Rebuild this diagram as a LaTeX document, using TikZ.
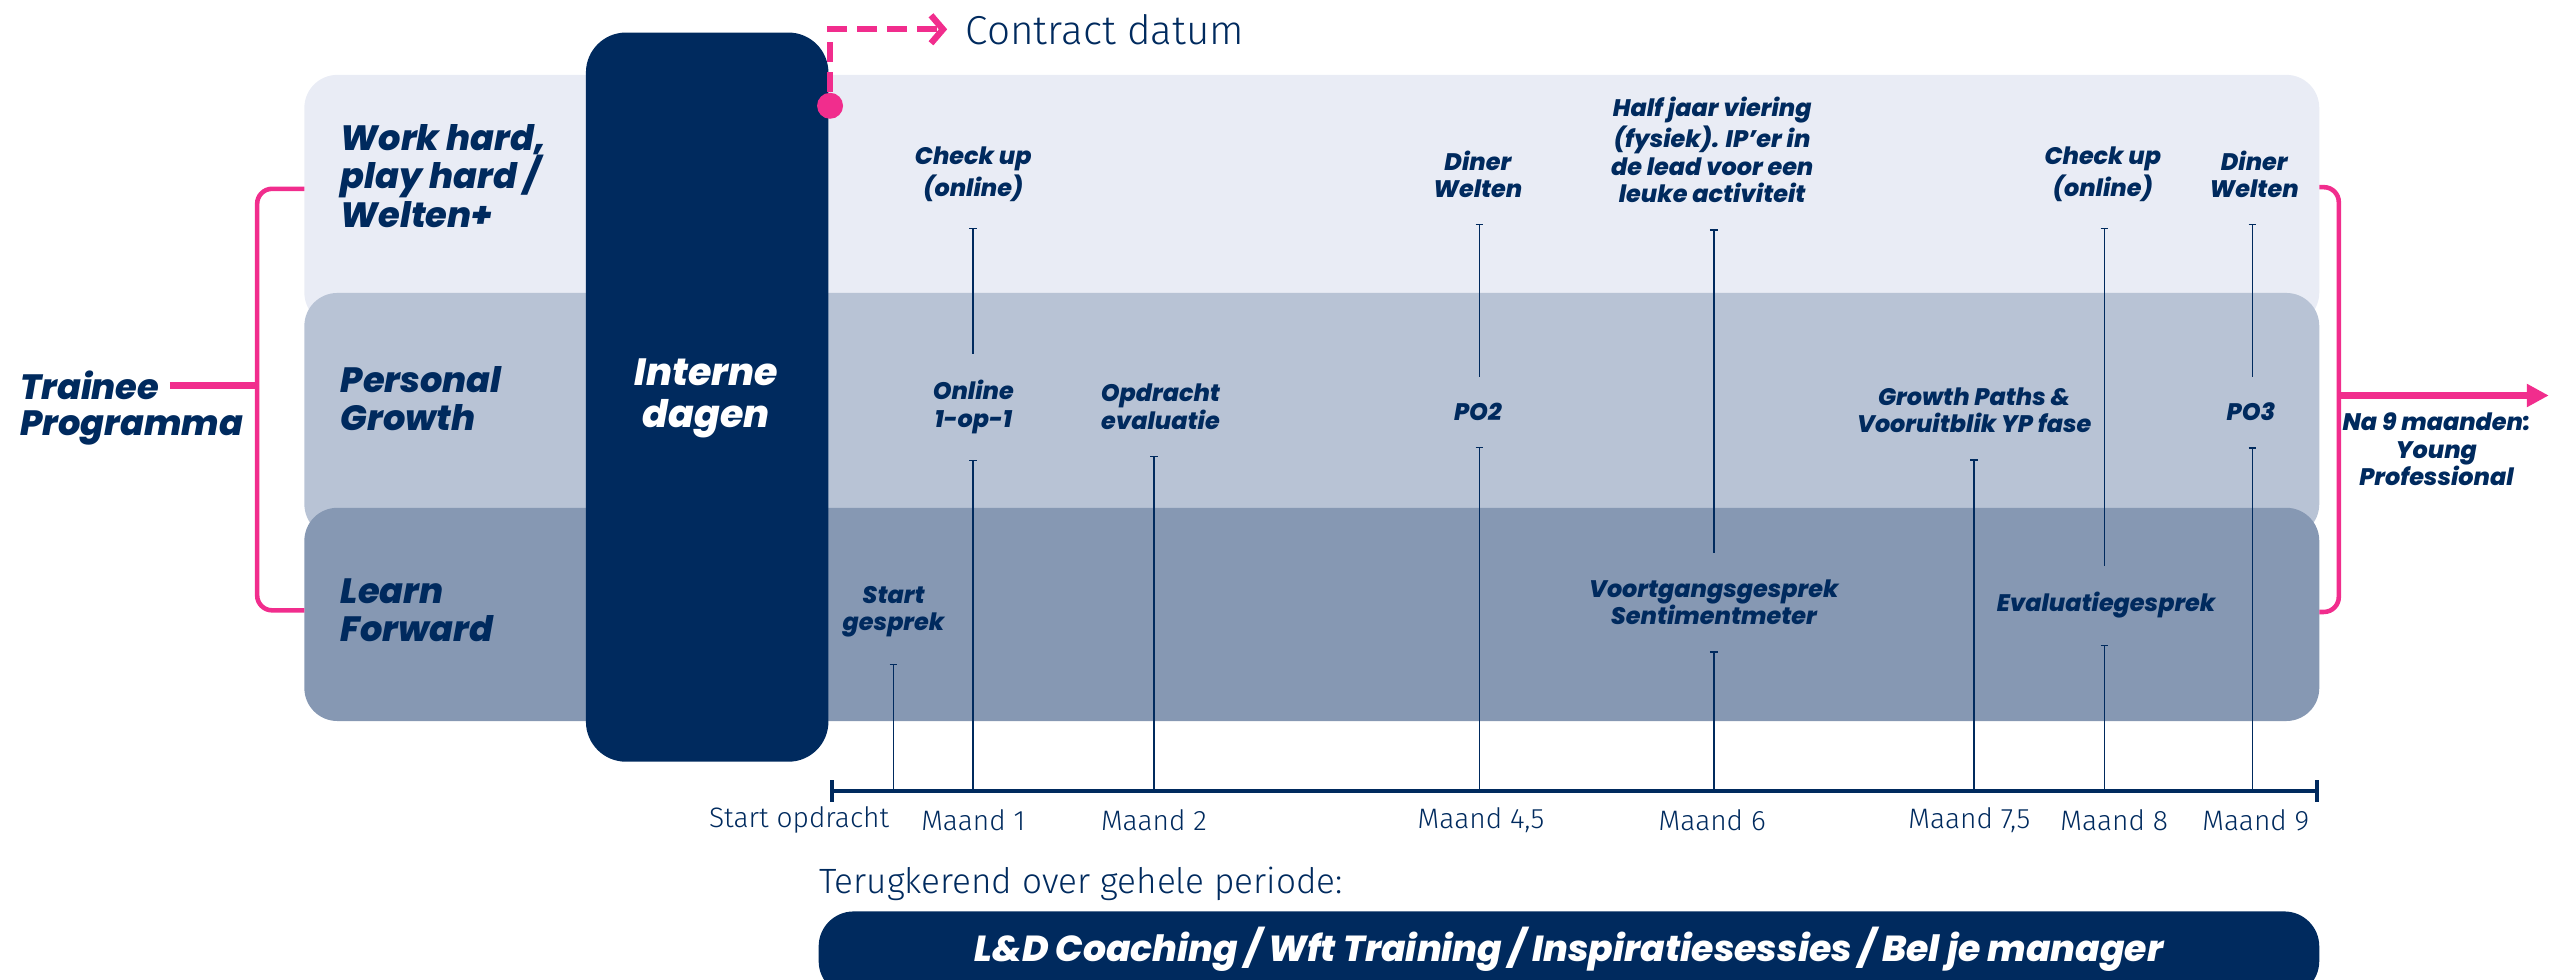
\documentclass[tikz,border=0pt]{standalone}
\usepackage{fontspec}
\setmainfont{Poppins}[BoldItalicFont={* ExtraBold Italic}]
\newfontfamily\thinfont{Fira Sans}[UprightFont={* Light}]
\usetikzlibrary{arrows.meta}
\definecolor{navy}{RGB}{0,42,94}
\definecolor{bandA}{RGB}{233,236,245}
\definecolor{bandB}{RGB}{184,195,213}
\definecolor{bandC}{RGB}{134,152,179}
\definecolor{brandpink}{RGB}{241,45,141}

\begin{document}
\begin{tikzpicture}[x=0.016276cm, y=-0.016276cm,
  band/.style={rounded corners=0.33cm},
  lane/.style={font=\bfseries\itshape\fontsize{10}{11}\selectfont, text=navy, align=left, anchor=west, inner sep=0pt},
  event/.style={font=\bfseries\itshape\fontsize{6.8}{7.8}\selectfont, text=navy, align=center, inner sep=1pt},
  month/.style={font=\thinfont\fontsize{8}{9}\selectfont, text=navy},
  stem/.style={navy, line width=0.45pt, {Bar[width=2.2pt]}-, shorten <=0.22cm},
  gap/.style={shorten >=0.22cm},
  bracket/.style={brandpink, line width=1.3pt, rounded corners=0.15cm}]
\useasboundingbox (0,0) rectangle (1568,602);

\fill[band, bandA] (187,46) rectangle (1425,200);
\fill[band, bandB] (187,180) rectangle (1425,330);
\fill[band, bandC] (187,312) rectangle (1425,443);
\fill[navy, rounded corners=0.4cm] (360,20) rectangle (509,468);

\node[lane] (work) at (209,108) {Work hard,\\play hard /\\Welten+};
\node[lane] (growth) at (209,245) {Personal\\Growth};
\node[lane] (learn) at (209,375) {Learn\\Forward};
\node[lane, text=white, align=center, anchor=center, font=\bfseries\itshape\fontsize{10.8}{12}\selectfont] (intern) at (434,245) {Interne\\dagen};

\node[lane] (trainee) at (12,237) {Trainee};
\node[lane] (prog) at (12,263) {Programma};
\coordinate (lbrace) at (158,237);
\draw[bracket] (187,116) -- (158,116) -- (158,375) -- (187,375);
\draw[brandpink, line width=2pt, shorten <=0.1cm] (trainee.east) -- (lbrace);

\coordinate (rbrace) at (1437,243);
\coordinate (young) at (1566,243);
\draw[bracket] (1425,115) -- (1437,115) -- (1437,376) -- (1425,376);
\draw[brandpink, line width=2pt, -{Triangle[length=0.22cm, width=0.22cm]}] (rbrace) -- (young);
\node[event] (na) at (1497,276) {Na 9 maanden:\\Young\\Professional};

\node[circle, fill=brandpink, minimum size=0.26cm, inner sep=0pt] (dot) at (510,65) {};
\node[month, font=\thinfont\fontsize{11.5}{13}\selectfont, anchor=west, inner sep=0pt] (contract) at (593,18) {Contract datum};
\draw[brandpink, line width=1.8pt, dash pattern=on 0.2cm off 0.1cm,
  -{Straight Barb[length=0.12cm, width=0.28cm]}, shorten >=0.18cm]
  (dot) |- (contract);

\coordinate (t0) at (510,486);
\coordinate (t9) at (1425,486);
\draw[navy, line width=1.2pt, {Bar[width=6pt]}-{Bar[width=6pt]}] (t0) -- (t9);
\foreach \x/\lx/\n/\t in {549/491/m0/Start opdracht, 598/598/m1/Maand 1,
  709/709/m2/Maand 2, 909/910/m45/{Maand 4,5}, 1053/1052/m6/Maand 6,
  1213/1210/m75/{Maand 7,5}, 1293/1299/m8/Maand 8, 1384/1386/m9/Maand 9} {
  \coordinate (\n) at (\x,486);
  \node[month] (l\n) at (\lx,504) {\t};
}

\node[event] (checkA) at (598,107) {Check up\\(online)};
\node[event] (dinerA) at (908,107) {Diner\\Welten};
\node[event] (half) at (1052,92) {Half jaar viering\\(fysiek). IP’er in\\de lead voor een\\leuke activiteit};
\node[event] (checkB) at (1292,107) {Check up\\(online)};
\node[event] (dinerB) at (1385,107) {Diner\\Welten};
\node[event] (online) at (598,250) {Online\\1-op-1};
\node[event] (opdracht) at (713,250) {Opdracht\\evaluatie};
\node[event] (poA) at (908,253) {PO2};
\node[event] (paths) at (1213,252) {Growth Paths \&\\Vooruitblik YP fase};
\node[event] (poB) at (1383,253) {PO3};
\node[event] (start) at (549,376) {Start\\gesprek};
\node[event] (voortgang) at (1053,370) {Voortgangsgesprek\\Sentimentmeter};
\node[event] (evaluatie) at (1294,372) {Evaluatiegesprek};

\draw[stem, gap] (checkA.south -| m1) -- (online.north -| m1);
\draw[stem] (online.south -| m1) -- (m1);
\draw[stem] (start.south -| m0) -- (m0);
\draw[stem] (opdracht.south -| m2) -- (m2);
\draw[stem, gap] (dinerA.south -| m45) -- (poA.north -| m45);
\draw[stem] (poA.south -| m45) -- (m45);
\draw[stem, gap] (half.south -| m6) -- (voortgang.north -| m6);
\draw[stem] (voortgang.south -| m6) -- (m6);
\draw[stem] (paths.south -| m75) -- (m75);
\draw[stem, gap] (checkB.south -| m8) -- (evaluatie.north -| m8);
\draw[stem] (evaluatie.south -| m8) -- (m8);
\draw[stem, gap] (dinerB.south -| m9) -- (poB.north -| m9);
\draw[stem] (poB.south -| m9) -- (m9);

\node[month, font=\thinfont\fontsize{10}{12}\selectfont, anchor=west, inner sep=0pt] (recurring) at (503,543) {Terugkerend over gehele periode:};
\fill[navy, rounded corners=0.35cm] (503,560) rectangle (1425,612);
\node[lane, text=white, anchor=center, font=\bfseries\itshape\fontsize{10.3}{12}\selectfont] (coaching) at (964,583) {L\&D Coaching / Wft Training / Inspiratiesessies / Bel je manager};
\end{tikzpicture}
\end{document}
